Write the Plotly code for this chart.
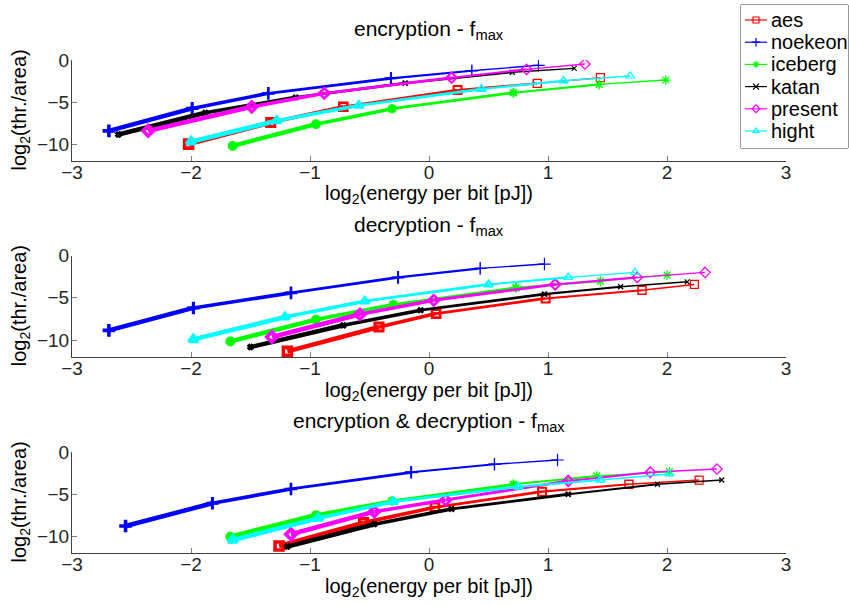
import plotly.graph_objects as go

# ---- series labels, colours and marker symbols ----
NAMES = ["aes", "noekeon", "iceberg", "katan", "present", "hight"]
COLORS = ["#FF0000", "#0000FF", "#00FF00", "#000000", "#FF00FF", "#00FFFF"]
SYMBOLS = ["square-open", "cross-thin-open", "asterisk-open", "x-thin-open",
           "diamond-open", "triangle-up-open"]
MARKER_SIZES = [8, 9, 8, 5, 8, 8]

X_TICKS = [-3, -2, -1, 0, 1, 2, 3]
Y_TICKS = [-10, -5, 0]

# ---- encryption ----
ENC_AES_X = [-2.02, -1.33, -0.72, 0.24, 0.91, 1.44]
ENC_AES_Y = [-10.0, -7.42, -5.56, -3.57, -2.78, -2.10]
ENC_NOEKEON_X = [-2.69, -1.99, -1.35, -0.32, 0.36, 0.92]
ENC_NOEKEON_Y = [-8.42, -5.75, -3.96, -2.18, -1.27, -0.63]
ENC_ICEBERG_X = [-1.65, -0.95, -0.31, 0.71, 1.43, 1.99]
ENC_ICEBERG_Y = [-10.2, -7.62, -5.79, -3.89, -2.90, -2.38]
ENC_KATAN_X = [-2.61, -1.88, -1.12, -0.20, 0.70, 1.22]
ENC_KATAN_Y = [-8.85, -6.27, -4.44, -2.75, -1.45, -0.99]
ENC_PRESENT_X = [-2.36, -1.49, -0.88, 0.19, 0.82, 1.31]
ENC_PRESENT_Y = [-8.42, -5.56, -3.96, -2.10, -1.11, -0.48]
ENC_HIGHT_X = [-2.00, -1.28, -0.59, 0.44, 1.13, 1.69]
ENC_HIGHT_Y = [-9.72, -7.22, -5.40, -3.45, -2.46, -1.90]

# ---- decryption ----
DEC_AES_X = [-1.19, -0.42, 0.06, 0.98, 1.79, 2.23]
DEC_AES_Y = [-11.34, -8.45, -6.87, -5.08, -4.10, -3.42]
DEC_NOEKEON_X = [-2.69, -1.98, -1.16, -0.26, 0.43, 0.97]
DEC_NOEKEON_Y = [-8.85, -6.20, -4.42, -2.59, -1.52, -1.01]
DEC_ICEBERG_X = [-1.67, -0.95, -0.30, 0.73, 1.44, 2.00]
DEC_ICEBERG_Y = [-10.15, -7.58, -5.80, -3.82, -3.03, -2.32]
DEC_KATAN_X = [-1.50, -0.72, -0.07, 0.97, 1.61, 2.17]
DEC_KATAN_Y = [-10.83, -8.25, -6.47, -4.57, -3.70, -3.11]
DEC_PRESENT_X = [-1.32, -0.58, 0.04, 1.06, 1.75, 2.32]
DEC_PRESENT_Y = [-9.64, -6.95, -5.29, -3.42, -2.59, -2.00]
DEC_HIGHT_X = [-1.98, -1.21, -0.54, 0.50, 1.17, 1.73]
DEC_HIGHT_Y = [-9.92, -7.27, -5.40, -3.42, -2.59, -2.00]

# ---- encryption & decryption ----
ED_AES_X = [-1.26, -0.55, 0.05, 0.95, 1.68, 2.27]
ED_AES_Y = [-11.16, -8.39, -6.57, -4.71, -3.84, -3.33]
ED_NOEKEON_X = [-2.55, -1.82, -1.16, -0.15, 0.55, 1.08]
ED_NOEKEON_Y = [-8.79, -6.09, -4.39, -2.41, -1.46, -0.95]
ED_ICEBERG_X = [-1.67, -0.95, -0.31, 0.71, 1.41, 2.02]
ED_ICEBERG_Y = [-10.06, -7.48, -5.82, -3.84, -2.85, -2.34]
ED_KATAN_X = [-1.19, -0.46, 0.19, 1.17, 1.92, 2.46]
ED_KATAN_Y = [-11.24, -8.58, -6.77, -5.02, -3.84, -3.33]
ED_PRESENT_X = [-1.16, -0.46, 0.14, 1.17, 1.86, 2.42]
ED_PRESENT_Y = [-9.77, -7.09, -5.70, -3.44, -2.41, -2.02]
ED_HIGHT_X = [-1.65, -0.93, -0.30, 0.75, 1.44, 2.02]
ED_HIGHT_Y = [-10.45, -7.88, -5.90, -4.12, -3.33, -2.61]

PANEL_TITLES = ["encryption - f<sub>max</sub>",
                "decryption - f<sub>max</sub>",
                "encryption &amp; decryption - f<sub>max</sub>"]
PANEL_SERIES = [
    [(ENC_AES_X, ENC_AES_Y), (ENC_NOEKEON_X, ENC_NOEKEON_Y),
     (ENC_ICEBERG_X, ENC_ICEBERG_Y), (ENC_KATAN_X, ENC_KATAN_Y),
     (ENC_PRESENT_X, ENC_PRESENT_Y), (ENC_HIGHT_X, ENC_HIGHT_Y)],
    [(DEC_AES_X, DEC_AES_Y), (DEC_NOEKEON_X, DEC_NOEKEON_Y),
     (DEC_ICEBERG_X, DEC_ICEBERG_Y), (DEC_KATAN_X, DEC_KATAN_Y),
     (DEC_PRESENT_X, DEC_PRESENT_Y), (DEC_HIGHT_X, DEC_HIGHT_Y)],
    [(ED_AES_X, ED_AES_Y), (ED_NOEKEON_X, ED_NOEKEON_Y),
     (ED_ICEBERG_X, ED_ICEBERG_Y), (ED_KATAN_X, ED_KATAN_Y),
     (ED_PRESENT_X, ED_PRESENT_Y), (ED_HIGHT_X, ED_HIGHT_Y)],
]
X_LABEL = "log<sub>2</sub>(energy per bit [pJ])"
Y_LABEL = "log<sub>2</sub>(thr./area)"

# line width per operating point: thick at the low-energy end
SEG_WIDTHS = [4.5, 3.6, 2.8, 2.1, 1.4]
MARKER_WIDTHS = [3.6, 3.1, 2.6, 2.0, 1.4, 1.2]

FONT = "Liberation Sans, Arial, sans-serif"
AXIS_COLOR = "#404040"
W, H = 849, 604

# panel placement in pixels
PX_LEFT, PX_RIGHT = 72, 786
PANEL_TOPS = [60, 255.5, 452]
PANEL_BOTTOMS = [161, 357, 553]


def py_to_paper(py):
    return 1 - py / H


fig = go.Figure()

for p in range(3):
    xa = "x" if p == 0 else f"x{p + 1}"
    ya = "y" if p == 0 else f"y{p + 1}"
    for color, symbol, msize, (xs, ys) in zip(COLORS, SYMBOLS, MARKER_SIZES,
                                               PANEL_SERIES[p]):
        for i in range(len(xs) - 1):
            fig.add_trace(go.Scatter(
                x=xs[i:i + 2], y=ys[i:i + 2], mode="lines", xaxis=xa, yaxis=ya,
                line=dict(color=color, width=SEG_WIDTHS[i]),
                showlegend=False, hoverinfo="skip"))
        fig.add_trace(go.Scatter(
            x=xs, y=ys, mode="markers", xaxis=xa, yaxis=ya, showlegend=False,
            marker=dict(symbol=symbol, size=msize, color=color,
                        line=dict(color=color, width=MARKER_WIDTHS[:len(xs)]))))

# ---- legend box (own axis, pixel units measured from the box's top-left) ----
LEG_LEFT, LEG_RIGHT, LEG_TOP, LEG_BOTTOM = 741, 848, 5, 148
LEG_ROW0, LEG_ROW_STEP = 15, 22.2
for k, (name, color, symbol) in enumerate(zip(NAMES, COLORS, SYMBOLS)):
    ry = LEG_ROW0 + k * LEG_ROW_STEP
    fig.add_trace(go.Scatter(
        x=[4, 26], y=[ry, ry], mode="lines", xaxis="x4", yaxis="y4",
        line=dict(color=color, width=1.2), showlegend=False, hoverinfo="skip"))
    fig.add_trace(go.Scatter(
        x=[15], y=[ry], mode="markers", xaxis="x4", yaxis="y4",
        marker=dict(symbol=symbol, size=6, color=color,
                    line=dict(color=color, width=1.2)),
        showlegend=False, hoverinfo="skip"))

axis_common = dict(showline=True, linecolor=AXIS_COLOR, linewidth=1,
                   ticks="inside", tickcolor="#808080", ticklen=5,
                   showgrid=False, zeroline=False, mirror=False,
                   automargin=False,
                   tickfont=dict(family=FONT, size=19, color="#262626"))

layout = dict(
    template="none",
    width=W, height=H,
    margin=dict(l=0, r=0, t=0, b=0, autoexpand=False),
    plot_bgcolor="white", paper_bgcolor="white",
    font=dict(family=FONT, size=19, color="#262626"),
    showlegend=False,
    annotations=[],
    shapes=[dict(type="rect", xref="paper", yref="paper",
                 x0=LEG_LEFT / W, x1=LEG_RIGHT / W,
                 y0=py_to_paper(LEG_BOTTOM), y1=py_to_paper(LEG_TOP),
                 line=dict(color="#303030", width=1), fillcolor="rgba(0,0,0,0)",
                 layer="below")],
    xaxis4=dict(domain=[LEG_LEFT / W, LEG_RIGHT / W], range=[0, LEG_RIGHT - LEG_LEFT],
                visible=False, anchor="y4", fixedrange=True, automargin=False),
    yaxis4=dict(domain=[py_to_paper(LEG_BOTTOM), py_to_paper(LEG_TOP)],
                range=[LEG_BOTTOM - LEG_TOP, 0], visible=False, anchor="x4",
                fixedrange=True, automargin=False),
)

for k, name in enumerate(NAMES):
    layout["annotations"].append(dict(
        text=name, x=28, y=LEG_ROW0 + k * LEG_ROW_STEP, xref="x4", yref="y4",
        xanchor="left", yanchor="middle", showarrow=False,
        font=dict(family=FONT, size=20, color="#000000")))

x_dom = [PX_LEFT / W, PX_RIGHT / W]
for p in range(3):
    sx = "" if p == 0 else str(p + 1)
    y_dom = [py_to_paper(PANEL_BOTTOMS[p]), py_to_paper(PANEL_TOPS[p])]
    layout["xaxis" + sx] = dict(
        axis_common, domain=x_dom, range=[-3, 3], tickvals=X_TICKS,
        anchor="y" + sx, ticklabelstandoff=-6)
    layout["yaxis" + sx] = dict(
        axis_common, domain=y_dom, range=[-12, 0], tickvals=Y_TICKS,
        anchor="x" + sx, ticklabelstandoff=-2)
    # panel title
    layout["annotations"].append(dict(
        text=PANEL_TITLES[p], x=(x_dom[0] + x_dom[1]) / 2,
        y=py_to_paper(PANEL_TOPS[p] - 30), xref="paper", yref="paper",
        xanchor="center", yanchor="middle", showarrow=False,
        font=dict(family=FONT, size=21, color="#000000")))
    # x-axis label
    layout["annotations"].append(dict(
        text=X_LABEL, x=(x_dom[0] + x_dom[1]) / 2,
        y=py_to_paper(PANEL_BOTTOMS[p] + 34), xref="paper", yref="paper",
        xanchor="center", yanchor="middle", showarrow=False,
        font=dict(family=FONT, size=20, color="#000000")))
    # y-axis label
    layout["annotations"].append(dict(
        text=Y_LABEL, x=20 / W,
        y=py_to_paper((PANEL_TOPS[p] + PANEL_BOTTOMS[p]) / 2), xref="paper",
        yref="paper", xanchor="center", yanchor="middle", textangle=-90,
        showarrow=False, font=dict(family=FONT, size=20, color="#000000")))

fig.update_layout(**layout)
fig.write_html("out.html")
